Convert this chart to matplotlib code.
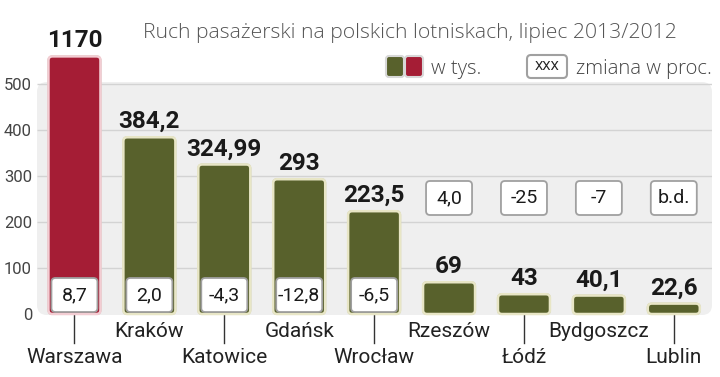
# Ruch pasazerski na polskich lotniskach, lipiec 2013/2012
import numpy as np
import matplotlib.pyplot as plt
from matplotlib.patches import FancyBboxPatch

plt.rcParams['font.family'] = ['Roboto', 'DejaVu Sans']

################################################################################
# Data

cities = ['Warszawa', 'Kraków', 'Katowice', 'Gdańsk', 'Wrocław',
          'Rzeszów', 'Łódź', 'Bydgoszcz', 'Lublin']
passengers = [1170, 384.2, 324.99, 293, 223.5, 69, 43, 40.1, 22.6]   # w tys.
passengerLabels = ['1170', '384,2', '324,99', '293', '223,5', '69', '43', '40,1', '22,6']
changeLabels = ['8,7', '2,0', '-4,3', '-12,8', '-6,5', '4,0', '-25', '-7', 'b.d.']
yTicks = [0, 100, 200, 300, 400, 500]

title = 'Ruch pasażerski na polskich lotniskach, lipiec 2013/2012'

################################################################################
# Layout helpers (pixel based)

W, H = 720, 377
fig = plt.figure(figsize=(W/100, H/100), dpi=100)
fig.patch.set_facecolor('white')
ax = fig.add_axes([37/W, 63/H, 675/W, 314/H])
xmin, xmax = -0.5, 8.51
ymax = 682.6
ax.set_xlim(xmin, xmax)
ax.set_ylim(0, ymax)

pxX = 675/(xmax - xmin)
pxY = 314/ymax
asp = pxX/pxY

def ux(p):
	return p/pxX

def uy(p):
	return p/pxY

def px(xp, yp):
	# figure pixel (from top-left) -> data
	return xmin + (xp - 37)/pxX, (314 - yp)/pxY

def rbox(x0, y0, w, h, r, **kw):
	p = FancyBboxPatch((x0, y0), w, h, boxstyle='round,pad=0,rounding_size=%f' % ux(r),
	                   mutation_aspect=asp, clip_on=False, **kw)
	ax.add_patch(p)
	return p

red = '#a51d35'
green = '#58612c'
lightFont = ['Open Sans', 'DejaVu Sans']

################################################################################
# Background panel and grid

rbox(xmin, -uy(1), xmax - xmin, uy(233), 10, fc='#efefef', ec='none', zorder=0)
ax.hlines(yTicks[1:], xmin, xmax, color='#d3d3d3', lw=1, zorder=1)

for s in ax.spines.values():
	s.set_visible(False)
ax.set_xticks([])
ax.set_yticks(yTicks)
ax.tick_params(axis='y', length=0, pad=3.6, labelsize=12, labelcolor='#444444')

################################################################################
# Bars

x = np.arange(len(cities))
bw = ux(52)
for i, v in enumerate(passengers):
	h = min(v, 560)
	fc = red if i == 0 else green
	ec = '#f3cdd3' if i == 0 else '#e8e6c6'
	rbox(x[i] - bw/2 - ux(1), -uy(1), bw + ux(2), h + uy(2), 5, fc='#b9b8a8', ec='none', zorder=2)
	rbox(x[i] - bw/2, 0, bw, h, 4, fc=fc, ec=ec, lw=1.8, zorder=3)
	ax.text(x[i], h + uy(9), passengerLabels[i], ha='center', va='baseline',
	        fontsize=17.5, fontweight='bold', color='#1a1a1a', zorder=5)

	# percent change box
	cw, ch = ux(46), uy(34)
	if v > 100:
		y0 = uy(2)
	else:
		y0 = uy(314 - 215)
	rbox(x[i] - cw/2, y0, cw, ch, 4, fc='white', ec='#a0a0a0', lw=1.3, zorder=4)
	ax.text(x[i], y0 + ch/2, changeLabels[i], ha='center', va='center',
	        fontsize=14, color='#1a1a1a', zorder=5)

################################################################################
# City labels

for i, c in enumerate(cities):
	if i % 2 == 0:
		ax.plot([x[i], x[i]], [-uy(1), -uy(29)], color='#333333', lw=1, clip_on=False)
		ax.text(x[i], -uy(49), c, ha='center', va='baseline', fontsize=15,
		        color='#222222', clip_on=False)
	else:
		ax.text(x[i], -uy(23), c, ha='center', va='baseline', fontsize=15,
		        color='#222222', clip_on=False)

################################################################################
# Title and legend

tx, ty = px(143, 38)
ax.text(tx, ty, title, ha='left', va='baseline', fontsize=15.2, fontweight='light',
        family=lightFont, color='#555555')

lx, ly = px(386, 77)
rbox(lx, ly, ux(18), uy(21), 3, fc=green, ec='#d8d8d8', lw=1.5, zorder=3)
lx, ly = px(405, 77)
rbox(lx, ly, ux(18), uy(21), 3, fc=red, ec='#d8d8d8', lw=1.5, zorder=3)
tx, ty = px(431, 74)
ax.text(tx, ty, 'w tys.', ha='left', va='baseline', fontsize=14.6, fontweight='light',
        family=lightFont, color='#444444')

lx, ly = px(527, 78)
rbox(lx, ly, ux(40), uy(23), 4, fc='white', ec='#a0a0a0', lw=1.5, zorder=3)
tx, ty = px(547, 67)
ax.text(tx, ty, 'XXX', ha='center', va='center', fontsize=9.5, color='#222222',
        zorder=4)
tx, ty = px(712, 74)
ax.text(tx, ty, 'zmiana w proc.', ha='right', va='baseline', fontsize=14.6,
        fontweight='light', family=lightFont, color='#444444')

plt.savefig('out.png', dpi=100)
